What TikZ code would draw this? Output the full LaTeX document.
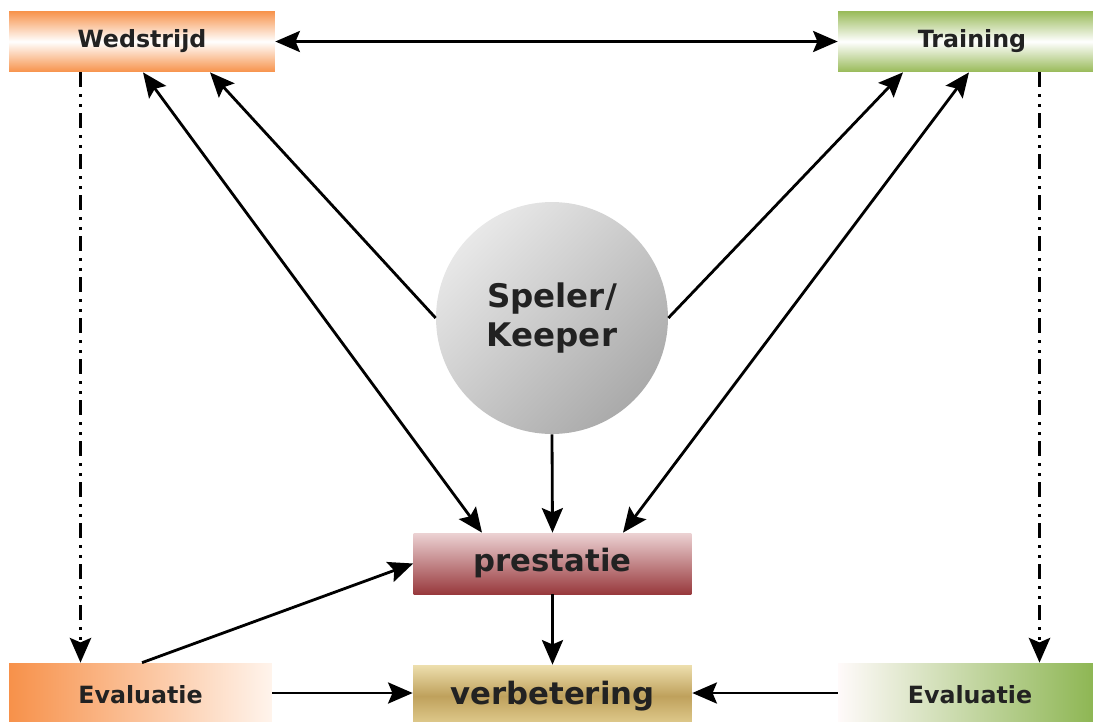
\documentclass[tikz,border=0pt]{standalone}
\usepackage{fontspec}
\setmainfont{DejaVu Sans}
\usetikzlibrary{arrows.meta,calc}
\definecolor{txt}{HTML}{222222}
\definecolor{orng}{HTML}{F7924A}
\definecolor{grn}{HTML}{98BA58}
\definecolor{preT}{HTML}{ECD2D3}
\definecolor{preB}{HTML}{98393D}
\definecolor{verT}{HTML}{EDDFAE}
\definecolor{verM}{HTML}{BFA15C}
\definecolor{verB}{HTML}{E3CF92}
\definecolor{evlL}{HTML}{F7914A}
\definecolor{evlR}{HTML}{FFF4EC}
\definecolor{evrL}{HTML}{FFFAFA}
\definecolor{evrR}{HTML}{8AB44E}
\definecolor{cirL}{HTML}{E8E8E8}
\definecolor{cirD}{HTML}{AAAAAA}
\tikzset{
  lbl/.style={text=txt, font=\bfseries},
  boxbase/.style={rectangle, inner sep=0pt, lbl},
  topbox/.style={boxbase, minimum height=1.22cm, font=\bfseries\fontsize{13.5}{16}\selectfont},
  midbox/.style={boxbase, minimum height=1.22cm, font=\bfseries\fontsize{17.5}{20}\selectfont},
  evbox/.style={boxbase, minimum height=1.28cm, font=\bfseries\fontsize{13.5}{16}\selectfont},
  conn/.style={line width=1.6pt, draw=black},
  tip/.style={-{Stealth[length=14pt,width=12pt,inset=2.5pt]}},
  dtip/.style={{Stealth[length=14pt,width=12pt,inset=2.5pt]}-{Stealth[length=14pt,width=12pt,inset=2.5pt]}},
  dashdotdot/.style={line width=2.2pt, dash pattern=on 0.3cm off 0.14cm on 0.05cm off 0.15cm on 0.05cm off 0.13cm}
}
\begin{document}
\begin{tikzpicture}[x=0.02cm,y=-0.02cm]
\useasboundingbox (0,0) rectangle (1093,721);
% nodes
\node[topbox, minimum width=5.32cm, top color=orng, bottom color=orng, middle color=white] (wed) at (142,41.5) {Wedstrijd};
\node[topbox, minimum width=5.36cm, top color=grn, bottom color=grn, middle color=white] (tra) at (972,41.5) {Training};
\node[circle, inner sep=0pt, minimum size=4.64cm, shade, top color=cirL, bottom color=cirD, shading angle=45, align=center, lbl, font=\bfseries\fontsize{18.5}{22}\selectfont] (spk) at (552,318) {Speler/\\Keeper};
\node[midbox, minimum width=5.56cm, top color=preT, bottom color=preB] (pre) at (552.5,563.5) {prestatie};
\node[midbox, minimum width=5.58cm, minimum height=1.24cm, top color=verT, bottom color=verB, middle color=verM] (ver) at (552.5,696) {verbetering};
\node[evbox, minimum width=5.26cm, left color=evlL, right color=evlR] (evl) at (140.5,695) {Evaluatie};
\node[evbox, minimum width=5.28cm, left color=evrL, right color=evrR] (evr) at (970,695) {Evaluatie};
% helper x positions
\coordinate (xdl) at (80.5,0);
\coordinate (xdr) at (1039.5,0);
\coordinate (xw1) at (143,0);
\coordinate (xw2) at (210,0);
\coordinate (xt1) at (903,0);
\coordinate (xt2) at (969,0);
\coordinate (xp1) at (482,0);
\coordinate (xp2) at (623,0);
\coordinate (xe) at (142,0);
\coordinate (yh) at (0,693);
% connectors
\draw[conn,dtip] (wed.east) -- (tra.west);
\draw[dashdotdot,tip] (wed.south -| xdl) -- (evl.north -| xdl);
\draw[dashdotdot,tip] (tra.south -| xdr) -- (evr.north -| xdr);
\draw[conn,tip] (spk.west) -- (wed.south -| xw2);
\draw[conn,dtip] (wed.south -| xw1) -- (pre.north -| xp1);
\draw[conn,tip] (spk.east) -- (tra.south -| xt1);
\draw[conn,dtip] (tra.south -| xt2) -- (pre.north -| xp2);
\draw[conn,tip] (spk.south) -- (pre.north);
\draw[conn,tip] (evl.north -| xe) -- (pre.west);
\draw[conn,tip] (pre.south) -- (ver.north);
\draw[conn,tip] (evl.east |- yh) -- (ver.west |- yh);
\draw[conn,tip] (evr.west |- yh) -- (ver.east |- yh);
\end{tikzpicture}
\end{document}
